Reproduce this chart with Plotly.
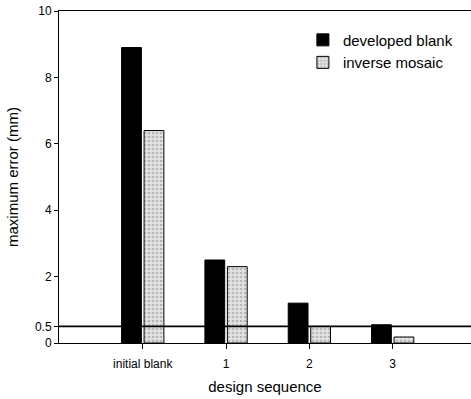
import plotly.graph_objects as go

categories = ["initial blank", "1", "2", "3"]
developed_blank = [8.9, 2.5, 1.2, 0.55]
inverse_mosaic = [6.4, 2.3, 0.5, 0.18]
y_tick_vals = [0, 0.5, 2, 4, 6, 8, 10]
y_tick_text = ["0", "0.5", "2", "4", "6", "8", "10"]
threshold = 0.5

x_idx = list(range(len(categories)))

fig = go.Figure()
fig.add_trace(go.Bar(
    x=x_idx, y=developed_blank, name="developed blank",
    marker=dict(color="black", line=dict(color="black", width=1)),
))
fig.add_trace(go.Bar(
    x=x_idx, y=inverse_mosaic, name="inverse mosaic",
    marker=dict(color="#e2e2e2", line=dict(color="black", width=1),
                pattern=dict(shape=".", fgcolor="#8a8a8a", bgcolor="#e2e2e2",
                             size=4, solidity=0.35)),
))

fig.add_shape(type="line", xref="paper", x0=0, x1=1, yref="y", y0=threshold, y1=threshold,
              line=dict(color="black", width=1.6))

fig.update_layout(
    width=471, height=399,
    margin=dict(l=59, r=0, t=11, b=56),
    paper_bgcolor="white", plot_bgcolor="white",
    barmode="group", bargap=0.46, bargroupgap=0.12,
    font=dict(family="Arial, Liberation Sans, sans-serif", color="black", size=12),
    showlegend=True,
    legend=dict(x=0.592, y=0.962, xanchor="left", yanchor="top",
                font=dict(size=15), bgcolor="rgba(0,0,0,0)",
                tracegroupgap=0, itemwidth=30),
    xaxis=dict(
        range=[-1.005, 3.94], tickmode="array", tickvals=x_idx, ticktext=categories,
        showline=True, linecolor="black", linewidth=1, mirror=True,
        ticks="outside", ticklen=5, tickcolor="black", showgrid=False, zeroline=False,
        tickfont=dict(size=12), ticklabelstandoff=5,
        title=dict(text="design sequence", font=dict(size=15), standoff=11),
    ),
    yaxis=dict(
        range=[0, 10], tickmode="array", tickvals=y_tick_vals, ticktext=y_tick_text,
        showline=True, linecolor="black", linewidth=1,
        ticks="outside", ticklen=4, tickcolor="black", showgrid=False, zeroline=False,
        tickfont=dict(size=12),
        title=dict(text="maximum error (mm)", font=dict(size=15), standoff=12),
    ),
)

fig.write_html("out.html", config={"displayModeBar": False},
               post_script="document.body.style.margin='0';document.body.style.overflow='hidden';")
